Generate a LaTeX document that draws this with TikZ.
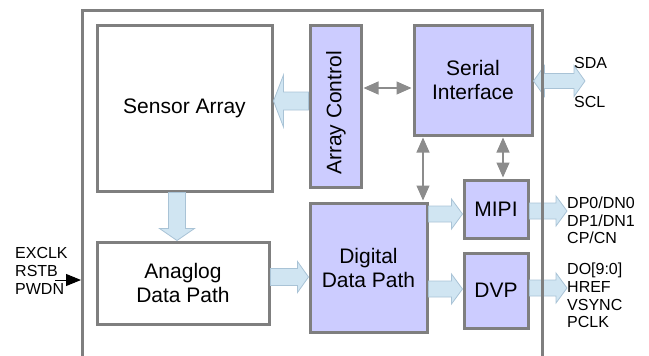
\documentclass[tikz,border=0pt]{standalone}
\usepackage{fontspec}
\setmainfont{Liberation Sans}
\usetikzlibrary{arrows.meta,calc}
\definecolor{boxline}{HTML}{7F7F7F}
\definecolor{lavender}{HTML}{CCCCFF}
\definecolor{pipefill}{HTML}{D0E5F2}
\definecolor{pipeline}{HTML}{A9C3D6}
\definecolor{linkgray}{HTML}{8C8C8C}
% fat arrow #1 -> #2, shaft half width #3, head half width #4, head length #5
\newcommand{\fatarrow}[5]{%
  \coordinate (fa-h) at ($(#2)!#5!(#1)$);
  \filldraw[pipe] ($(#1)!#3!90:(#2)$) -- ($(fa-h)!#3!90:(#2)$) -- ($(fa-h)!#4!90:(#2)$)
    -- (#2) -- ($(fa-h)!#4!-90:(#2)$) -- ($(fa-h)!#3!-90:(#2)$) -- ($(#1)!#3!-90:(#2)$) -- cycle;
}
% same, with a head at both ends
\newcommand{\fatdarrow}[5]{%
  \coordinate (fa-a) at ($(#1)!#5!(#2)$);
  \coordinate (fa-b) at ($(#2)!#5!(#1)$);
  \filldraw[pipe] (#1) -- ($(fa-a)!#4!90:(#2)$) -- ($(fa-a)!#3!90:(#2)$) -- ($(fa-b)!#3!90:(#2)$)
    -- ($(fa-b)!#4!90:(#2)$) -- (#2) -- ($(fa-b)!#4!-90:(#2)$) -- ($(fa-b)!#3!-90:(#2)$)
    -- ($(fa-a)!#3!-90:(#2)$) -- ($(fa-a)!#4!-90:(#2)$) -- cycle;
}
\begin{document}
\begin{tikzpicture}[x=1pt, y=-1pt,
    big/.style={font=\fontsize{21}{24}\selectfont},
    small/.style={font=\fontsize{16}{17.7}\selectfont, align=left, inner sep=0pt},
    block/.style={draw=boxline, line width=3pt, fill=white, big, align=center},
    logic/.style={block, fill=lavender},
    pipe/.style={fill=pipefill, draw=pipeline, line width=0.8pt, line join=miter},
    link/.style={draw=linkgray, line width=1.2pt, {Triangle[length=15pt,width=13pt]}-{Triangle[length=15pt,width=13pt]}, shorten <=1pt, shorten >=1pt}]
  \useasboundingbox (0,0) rectangle (649,356);

  % blocks
  \node[block, minimum width=175pt, minimum height=166pt] (sensor) at (184.5,108) {Sensor Array};
  \node[logic, minimum width=51pt, minimum height=162pt] (ctrl) at (335.5,106) {};
  \node[big, rotate=90] (ctrllabel) at (336,113) {Array Control};
  \node[logic, minimum width=118pt, minimum height=110pt] (serial) at (473,80) {Serial\\Interface};
  \node[block, minimum width=172pt, minimum height=82pt] (adp) at (183,283) {Anaglog\\Data Path};
  \node[logic, minimum width=117pt, minimum height=129pt] (ddp) at (368.5,267.5) {Digital\\Data Path};
  \node[logic, minimum width=64pt, minimum height=58pt] (mipi) at (496,209) {MIPI};
  \node[logic, minimum width=64pt, minimum height=75pt] (dvp) at (496,290.5) {DVP};

  % data flow
  \coordinate (c1) at (ctrl.west |- 0,101);
  \coordinate (s1) at (sensor.east |- 0,101);
  \fatarrow{c1}{s1}{9pt}{26pt}{10pt}
  \coordinate (s2) at (177,0 |- sensor.south);
  \coordinate (a1) at (177,0 |- adp.north);
  \fatarrow{s2}{a1}{8.5pt}{17.5pt}{12pt}
  \coordinate (a2) at (adp.east |- 0,277);
  \coordinate (d1) at (ddp.west |- 0,277);
  \fatarrow{a2}{d1}{8.5pt}{15.5pt}{11pt}
  \coordinate (d2) at (ddp.east |- 0,214);
  \coordinate (m1) at (mipi.west |- 0,214);
  \fatarrow{d2}{m1}{8pt}{15pt}{11pt}
  \coordinate (d3) at (ddp.east |- 0,289);
  \coordinate (v1) at (dvp.west |- 0,289);
  \fatarrow{d3}{v1}{8pt}{15pt}{11pt}
  \coordinate (m2) at (mipi.east |- 0,211);
  \coordinate (mipiout) at (567,211);
  \fatarrow{m2}{mipiout}{8pt}{15pt}{11pt}
  \coordinate (v2) at (dvp.east |- 0,288);
  \coordinate (dvpout) at (567,288);
  \fatarrow{v2}{dvpout}{8pt}{15pt}{11pt}
  \coordinate (i2c) at (serial.east |- 0,81);
  \coordinate (i2cout) at (585,81);
  \fatdarrow{i2c}{i2cout}{7.5pt}{15.5pt}{11pt}

  % control links
  \draw[link] (ctrl.east |- 0,88) -- (serial.west |- 0,88);
  \draw[link] (423,0 |- serial.south) -- (423,0 |- ddp.north);
  \draw[link] (503,0 |- serial.south) -- (503,0 |- mipi.north);

  % chip outline
  \draw[boxline, line width=3pt] (82,357) -- (82,10) -- (542,10) -- (542,357);

  % pins
  \node[small, anchor=west] (inpins) at (15,271) {EXCLK\\RSTB\\PWDN};
  \coordinate (inpin) at (55,280);
  \coordinate (inpad) at (81,280);
  \draw[line width=1pt, -{Triangle[length=15pt,width=12pt]}] (inpin) -- (inpad);
  \node[small, anchor=west] (sda) at (574,63) {SDA};
  \node[small, anchor=west] (scl) at (574,102) {SCL};
  \node[small, anchor=west] (mipipins) at (567,220.5) {DP0/DN0\\DP1/DN1\\CP/CN};
  \node[small, anchor=west] (dvppins) at (567,295.5) {DO[9:0]\\HREF\\VSYNC\\PCLK};
\end{tikzpicture}
\end{document}
